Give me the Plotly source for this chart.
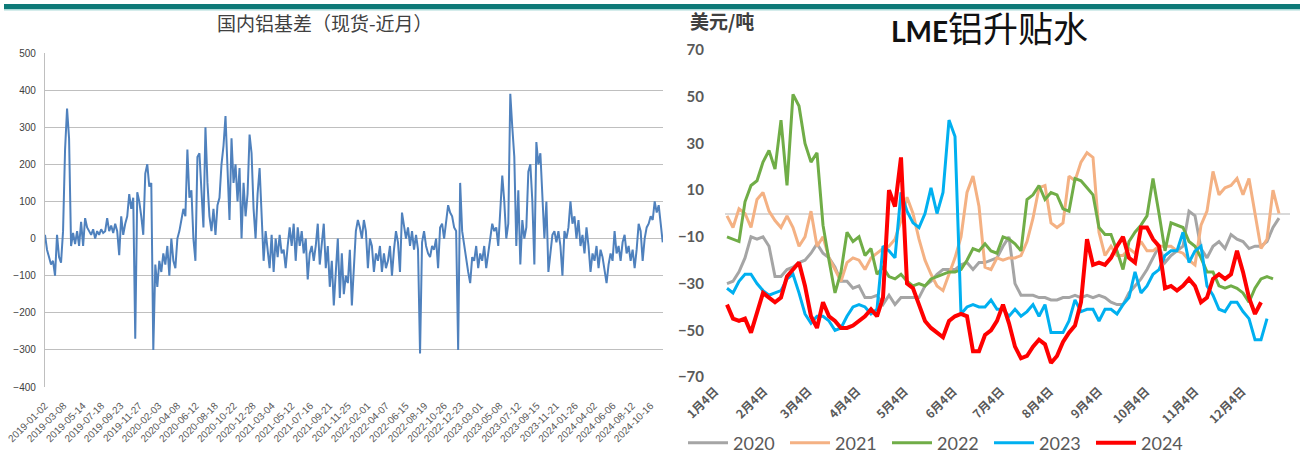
import numpy as np
import pandas as pd
import plotly.graph_objects as go

W, H = 1304, 456

# ---------------- 国内铝基差（现货-近月），weekly sampled, 元/吨 ----------------
basis_start = "2019-01-02"
basis = [
    10, -30, -50, -70, -60, -100, 10, -50, -65, 20,
    240, 350, 270, -20, 15, -15, 20, -20, 45, -20,
    55, 30, 20, 10, 25, 0, 20, 10, 25, 15,
    20, 55, 20, 35, 15, 40, 20, -45, 60, 10,
    40, 60, 120, 80, 110, -270, 125, 100, 60, 10,
    175, 200, 140, 150, -300, -70, -130, -60, -90, -40,
    -70, -20, -100, 0, -60, -80, 0, 20, 50, 80,
    60, 240, 110, 130, 0, -60, 220, 230, 130, 30,
    300, 150, 60, 20, 80, 10, 90, 110, 200, 250,
    330, 200, 50, 270, 150, 200, 100, 190, 0, 150,
    60, 120, 280, 230, 80, 0, 120, 190, 50, -60,
    20, -40, -80, 10, -90, 0, -50, 10, -40, -30,
    -80, -20, 30, -20, 40, -60, 30, -20, 20, -40,
    0, -110, -40, -20, -60, -20, 40, -70, -20, 40,
    -80, -20, -130, -60, -180, -100, 0, -160, -40, -150,
    -100, -120, -30, -180, -60, 20, 50, 30, 0, 50,
    20, -80, 0, -20, -90, -40, -60, -20, -90, -40,
    -80, -60, -20, -100, -30, 20, -10, -90, 70, 40,
    0, 30, -20, 20, -30, 10, -30, -310, -10, 20,
    -20, -40, -50, -20, -30, 0, -80, 30, 40, 0,
    50, 90, 70, 60, 30, 20, -300, 150, 20, -20,
    -60, -90, -120, -50, -60, -20, -80, -40, -60, -20,
    -80, -40, 0, 40, 20, 30, -20, 60, 170, 100,
    0, 40, 390, 300, 220, -20, 130, -70, 50, 0,
    30, 180, 200, 100, -70, 260, 200, 230, 130, 0,
    100, -90, -40, 10, 20, -10, 20, -20, -100, 20,
    0, 30, 100, 40, 60, 0, 50, -20, 10, -40,
    30, -20, -90, -40, -60, -20, -80, -30, -50, -90,
    -120, -70, -40, -60, 20, -40, -20, -60, -10, 10,
    -40, -20, -60, -30, -80, -30, 40, 20, -60, 0,
    30, 40, 60, 50, 100, 70, 90, 40, -10,
]
basis_ticks = [
    "2019-01-02", "2019-03-08", "2019-05-14", "2019-07-18", "2019-09-23",
    "2019-11-27", "2020-02-03", "2020-04-08", "2020-06-12", "2020-08-18",
    "2020-10-22", "2020-12-28", "2021-03-04", "2021-05-12", "2021-07-16",
    "2021-09-21", "2021-11-25", "2022-02-01", "2022-04-07", "2022-06-15",
    "2022-08-19", "2022-10-26", "2022-12-23", "2023-03-01", "2023-05-08",
    "2023-07-12", "2023-09-15", "2023-11-21", "2024-01-26", "2024-04-02",
    "2024-06-06", "2024-08-12", "2024-10-16",
]

# ---------------- LME铝升贴水 by year, 美元/吨, days counted from 1月4日 ----------------
lme_2020 = [
    -30, -29, -25, -19, -10, -11, -10, -14, -27, -27,
    -24, -23, -21, -20, -17, -13, -17, -19, -23, -29,
    -29, -32, -31, -36, -36, -35, -39, -35, -39, -36,
    -36, -36, -36, -31, -29, -26, -24, -24, -24, -22,
    -21, -24, -21, -21, -20, -19, -14, -10, -30, -35,
    -35, -35, -36, -36, -37, -37, -36, -36, -35, -36,
    -35, -36, -35, -36, -38, -39, -39, -34, -31, -28,
    -24, -19, -14, -21, -18, -16, -14, 1, -1, -15,
    -19, -14, -12, -15, -9, -11, -12, -15, -14, -14,
    -12, -6, -2,
]
lme_2021 = [
    -1, -6, 2, 0, -6, 6, 9, 1, -3, -6,
    -1, -6, -14, -10, 1, -14, -10, -19, -24, -29,
    -21, -19, -20, -24, -19, -17, -15, -14, -11, -3,
    7, 0, -11, -20, -26, -31, -33, -26, -19, -10,
    9, 16, 3, -23, -24, -19, -20, -19, -19, -18,
    -12, -2, 11, 12, -4, -6, -4, 16, 14, 22,
    26, 24, -8, -18, -14, -18, -18, -15, -17, -12,
    -16, -16, -14, -14, -14, -16, -17, -20, -22, -5,
    1, 18, 8, 11, 12, 15, 8, 15, -1, -15,
    -11, 10, 0,
]
lme_2022 = [
    -10, -11, -12, 5, 12, 14, 22, 27, 19, 40,
    12, 51, 46, 30, 22, 26, -5, -20, -34, -25,
    -8, -12, -10, -18, -15, -26, -23, -27, -28, -26,
    -29, -31, -30, -31, -28, -27, -26, -25, -25, -24,
    -20, -15, -16, -13, -16, -17, -10, -11, -13, -16,
    6, 8, 12, 6, 9, 8, 2, 1, 15, 14,
    11, 8, -6, -9, -9, -16, -24, -12, -8, -5,
    -1, 15, 0, -16, -4, -5, -6, -12, -14, -19,
    -25, -25, -31, -32, -31, -32, -34, -38, -32, -28,
    -27, -28,
]
lme_2023 = [
    -32, -34, -29, -26, -26, -30, -33, -35, -34, -33,
    -28, -26, -34, -43, -47, -44, -44, -46, -50, -49,
    -44, -40, -39, -40, -43, -41, -14, -16, -19, 9,
    1, -4, -6, 0, 11, 0, 9, 40, 33, -43,
    -40, -39, -40, -40, -37, -41, -41, -44, -41, -44,
    -42, -39, -44, -39, -51, -51, -51, -46, -37, -42,
    -41, -41, -46, -41, -41, -43, -39, -36, -25, -34,
    -31, -26, -24, -18, -16, -16, -8, -21, -16, -14,
    -31, -35, -41, -42, -38, -38, -42, -45, -54, -54,
    -45,
]
lme_2024 = [
    -39, -45, -46, -45, -51, -43, -34, -36, -38, -36,
    -27, -24, -21, -31, -44, -49, -38, -44, -46, -49,
    -49, -48, -46, -44, -41, -44, -36, 10, 3, 24,
    -30, -32, -39, -46, -49, -51, -53, -46, -44, -43,
    -44, -59, -59, -52, -50, -46, -39, -47, -57, -62,
    -61, -57, -54, -56, -64, -61, -55, -51, -48, -38,
    -11, -22, -21, -22, -19, -14, -10, -19, -21, -6,
    -6, -11, -14, -32, -31, -33, -31, -28, -31, -38,
    -36, -28, -26, -28, -26, -16, -25, -36, -43, -38,
]
lme_step = 3.8  # days between consecutive points
month_labels = ["1月4日", "2月4日", "3月4日", "4月4日", "5月4日", "6月4日",
                "7月4日", "8月4日", "9月4日", "10月4日", "11月4日", "12月4日"]
month_days = [0, 31, 59, 90, 120, 151, 181, 212, 243, 273, 304, 334]

lme_series = [
    ("2020", lme_2020, "#A5A5A5", 3),
    ("2021", lme_2021, "#F4B183", 3),
    ("2022", lme_2022, "#70AD47", 3),
    ("2023", lme_2023, "#00B0F0", 3),
    ("2024", lme_2024, "#FF0000", 4),
]


def fx(px):
    return px / W


def fy(py):
    return 1 - py / H


CJK = "Noto Sans CJK SC"
NUM = "Lato, Noto Sans CJK SC"
NARROW = "Liberation Sans Narrow, Liberation Sans"

fig = go.Figure()

basis_dates = pd.date_range(basis_start, periods=len(basis), freq="7D")
fig.add_trace(go.Scatter(
    x=basis_dates, y=basis, mode="lines",
    line=dict(color="#4F81BD", width=2),
    xaxis="x", yaxis="y", showlegend=False, hoverinfo="skip",
))

for name, vals, color, width in lme_series:
    fig.add_trace(go.Scatter(
        x=np.arange(len(vals)) * lme_step, y=vals, mode="lines", name=name,
        line=dict(color=color, width=width),
        xaxis="x2", yaxis="y2",
    ))

# right panel spans 725..1290 px; first point sits at 727 px, 6 px per point
px_per_day = 6 / lme_step
x2_range = [(725 - 727) / px_per_day, (1290 - 727) / px_per_day]

fig.update_layout(
    width=W, height=H, autosize=False,
    margin=dict(l=0, r=0, t=0, b=0, autoexpand=False),
    paper_bgcolor="white", plot_bgcolor="white",
    xaxis=dict(
        domain=[fx(45), fx(663)], anchor="y", type="date",
        range=["2019-01-02", "2024-11-28"],
        tickmode="array", tickvals=basis_ticks, ticktext=basis_ticks,
        tickangle=-45, tickfont=dict(family=NARROW, size=10, color="#595959"),
        showgrid=False, zeroline=False, showline=False, ticks="",
        ticklabelstandoff=10, automargin=False,
    ),
    yaxis=dict(
        domain=[fy(387), fy(53)], anchor="x",
        range=[-400, 500], tick0=0, dtick=100,
        showgrid=True, gridcolor="#BFBFBF", gridwidth=1.3,
        showline=True, linecolor="#BFBFBF", linewidth=1.3,
        zeroline=False, ticks="",
        tickfont=dict(family=NARROW, size=10, color="#404040"),
        ticklabelstandoff=6, automargin=False,
    ),
    xaxis2=dict(
        domain=[fx(725), fx(1290)], anchor="y2",
        range=x2_range,
        tickmode="array", tickvals=month_days, ticktext=month_labels,
        tickangle=-45, tickfont=dict(family=CJK, size=12, color="#595959", weight="bold"),
        showgrid=False, zeroline=False, showline=False, ticks="",
        ticklabelshift=-12, ticklabelstandoff=4, automargin=False,
    ),
    yaxis2=dict(
        domain=[fy(377), fy(50)], anchor="x2",
        range=[-70, 70], tickmode="array",
        tickvals=[-70, -50, -30, -10, 10, 30, 50, 70],
        tickfont=dict(family=NUM, size=15, color="#595959", weight="bold"),
        showgrid=False, showline=False, ticks="",
        zeroline=True, zerolinecolor="#D9D9D9", zerolinewidth=1.5,
        ticklabelstandoff=20, automargin=False,
    ),
    legend=dict(
        orientation="h", x=fx(683), xanchor="left", y=fy(443), yanchor="middle",
        font=dict(family=NUM, size=18, color="#595959"),
        itemwidth=40, entrywidth=47, entrywidthmode="pixels",
        bgcolor="rgba(0,0,0,0)", traceorder="normal",
    ),
    shapes=[
        dict(type="rect", xref="paper", yref="paper",
             x0=fx(4), x1=fx(1300), y0=fy(9), y1=fy(4),
             fillcolor="#0E7A78", line=dict(width=0)),
        dict(type="rect", xref="paper", yref="paper",
             x0=fx(4), x1=fx(1300), y0=fy(10.5), y1=fy(9),
             fillcolor="#A9DAD8", line=dict(width=0)),
    ],
    annotations=[
        dict(text="国内铝基差（现货-近月）", xref="paper", yref="paper",
             x=fx(325), y=fy(23), xanchor="center", yanchor="middle", showarrow=False,
             font=dict(family=CJK, size=19, color="#404040")),
        dict(text="<b>美元/吨</b>", xref="paper", yref="paper",
             x=fx(722), y=fy(20), xanchor="center", yanchor="middle", showarrow=False,
             font=dict(family=CJK, size=19, color="#404040")),
        dict(text="<b>LME</b><span style='font-size:35px'>铝升贴水</span>",
             xref="paper", yref="paper",
             x=fx(990), y=fy(28), xanchor="center", yanchor="middle", showarrow=False,
             font=dict(family=NUM, size=28, color="#111111")),
    ],
)

fig.write_html("out.html")
